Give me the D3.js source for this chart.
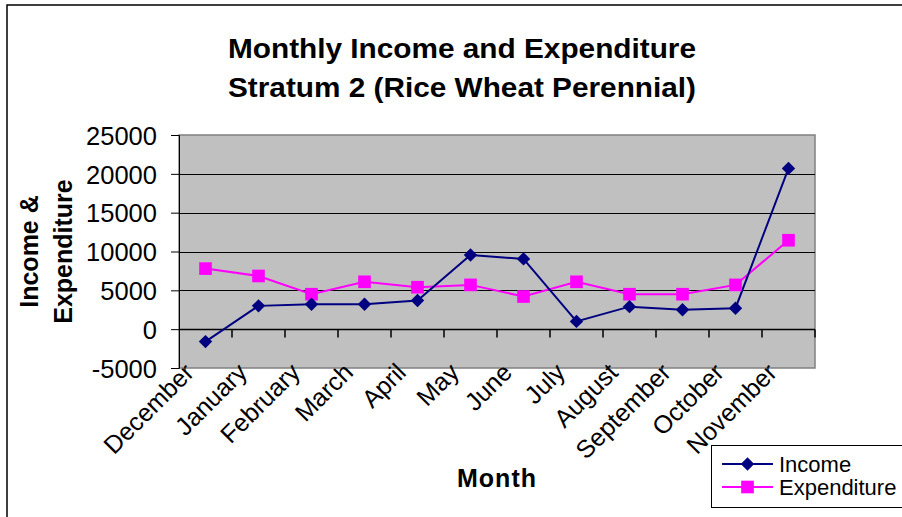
<!DOCTYPE html>
<html>
<head>
<meta charset="utf-8">
<script src="https://cdn.jsdelivr.net/npm/d3@7"></script>
<style>
  body { margin: 0; background: #fff; }
  svg { display: block; font-family: "Liberation Sans", Arial, sans-serif; }
</style>
</head>
<body>
<script>
// Chart data
const months = ['December', 'January', 'February', 'March', 'April', 'May',
  'June', 'July', 'August', 'September', 'October', 'November'];
const income = [-1600, 3000, 3200, 3200, 3700, 9550, 9050, 1000, 2900, 2500, 2700, 20700];
const expenditure = [7800, 6850, 4500, 6100, 5400, 5700, 4200, 6100, 4500, 4500, 5700, 11450];
const yTicks = [-5000, 0, 5000, 10000, 15000, 20000, 25000];

const width = 902;
const height = 517;

// plot area
const plot = { left: 179, right: 815, top: 135, bottom: 368 };

const svg = d3.select('body')
  .append('svg')
  .attr('width', width)
  .attr('height', height);

// outer chart border (runs off the right and bottom edges)
svg.append('rect')
  .attr('x', 7)
  .attr('y', 5)
  .attr('width', 1000)
  .attr('height', 1000)
  .style('fill', '#fff')
  .style('stroke', '#000')
  .style('stroke-width', 1.5);

// title
const title = svg.append('g')
  .style('font-weight', 'bold')
  .style('font-size', '28px')
  .attr('text-anchor', 'middle');
title.append('text')
  .attr('x', 462).attr('y', 58)
  .attr('textLength', 468).attr('lengthAdjust', 'spacingAndGlyphs')
  .text('Monthly Income and Expenditure');
title.append('text')
  .attr('x', 462).attr('y', 97)
  .attr('textLength', 468).attr('lengthAdjust', 'spacingAndGlyphs')
  .text('Stratum 2 (Rice Wheat Perennial)');

// scales
const x = d3.scaleBand()
  .domain(months)
  .range([plot.left, plot.right]);

const y = d3.scaleLinear()
  .domain([-5000, 25000])
  .range([plot.bottom, plot.top]);

const cx = (d, i) => x(months[i]) + x.bandwidth() / 2;

// plot background
svg.append('rect')
  .attr('x', plot.left)
  .attr('y', plot.top)
  .attr('width', plot.right - plot.left)
  .attr('height', plot.bottom - plot.top)
  .style('fill', '#c0c0c0')
  .style('stroke', '#808080')
  .style('stroke-width', 1.5);

// gridlines
svg.selectAll('.grid')
  .data(yTicks.filter((t) => t !== -5000 && t !== 25000))
  .enter()
  .append('line')
  .attr('class', 'grid')
  .attr('x1', plot.left)
  .attr('x2', plot.right)
  .attr('y1', (d) => Math.round(y(d)) + 0.5)
  .attr('y2', (d) => Math.round(y(d)) + 0.5)
  .style('stroke', '#000')
  .style('stroke-width', 1);

// y axis
const yAxis = svg.append('g')
  .attr('transform', `translate(${plot.left},0)`)
  .call(d3.axisLeft(y).tickValues(yTicks).tickSize(8).tickPadding(14).tickFormat((d) => String(d)));
yAxis.select('.domain').style('stroke', '#000');
yAxis.selectAll('.tick line').style('stroke', '#000');
yAxis.selectAll('text')
  .style('font-size', '25.5px')
  .style('fill', '#000')
  .attr('dy', '0.36em');

// x axis line at zero with ticks at category boundaries
const zeroY = Math.round(y(0)) + 0.5;
svg.append('line')
  .attr('x1', plot.left).attr('x2', plot.right)
  .attr('y1', zeroY).attr('y2', zeroY)
  .style('stroke', '#000')
  .style('stroke-width', 1.5);
svg.selectAll('.xtick')
  .data(months)
  .enter()
  .append('line')
  .attr('class', 'xtick')
  .attr('x1', (d) => x(d) + x.step())
  .attr('x2', (d) => x(d) + x.step())
  .attr('y1', zeroY)
  .attr('y2', zeroY + 8)
  .style('stroke', '#000')
  .style('stroke-width', 1.5);

// x labels rotated
svg.selectAll('.xlabel')
  .data(months)
  .enter()
  .append('text')
  .attr('class', 'xlabel')
  .attr('text-anchor', 'end')
  .attr('transform', (d) => `translate(${x(d) + x.bandwidth() / 2 - 10},${plot.bottom + 6}) rotate(-45)`)
  .style('font-size', '25px')
  .text((d) => d);

// axis titles
svg.append('text')
  .attr('text-anchor', 'middle')
  .attr('x', 497)
  .attr('y', 487)
  .style('font-size', '25px')
  .style('font-weight', 'bold')
  .style('letter-spacing', '1px')
  .text('Month');

const yTitle = svg.append('g')
  .attr('transform', `translate(0,${(plot.top + plot.bottom) / 2}) rotate(-90)`)
  .attr('text-anchor', 'middle')
  .style('font-size', '25px')
  .style('font-weight', 'bold');
yTitle.append('text').attr('x', 0).attr('y', 38).text('Income &');
yTitle.append('text').attr('x', 0).attr('y', 72).text('Expenditure');

// lines
const line = d3.line().x(cx).y((d) => y(d));

svg.append('path')
  .datum(expenditure)
  .attr('d', line)
  .style('fill', 'none')
  .style('stroke', '#ff00ff')
  .style('stroke-width', 2);

svg.append('path')
  .datum(income)
  .attr('d', line)
  .style('fill', 'none')
  .style('stroke', '#000080')
  .style('stroke-width', 2);

// markers
const diamond = d3.symbol().type(d3.symbolSquare).size(90);
const square = d3.symbol().type(d3.symbolSquare).size(160);

svg.selectAll('.exp')
  .data(expenditure)
  .enter()
  .append('path')
  .attr('class', 'exp')
  .attr('d', square)
  .attr('transform', (d, i) => `translate(${cx(d, i)},${y(d)})`)
  .style('fill', '#ff00ff');

svg.selectAll('.inc')
  .data(income)
  .enter()
  .append('path')
  .attr('class', 'inc')
  .attr('d', diamond)
  .attr('transform', (d, i) => `translate(${cx(d, i)},${y(d)}) rotate(45)`)
  .style('fill', '#000080');

// legend
const legend = svg.append('g');
legend.append('rect')
  .attr('x', 711.5)
  .attr('y', 445.5)
  .attr('width', 300)
  .attr('height', 62)
  .style('fill', '#fff')
  .style('stroke', '#000')
  .style('stroke-width', 1);

const legendItems = [
  { name: 'Income', color: '#000080', sym: diamond, rot: 45, ly: 464 },
  { name: 'Expenditure', color: '#ff00ff', sym: square, rot: 0, ly: 487 }
];
const li = legend.selectAll('.li')
  .data(legendItems)
  .enter()
  .append('g')
  .attr('class', 'li');
li.append('line')
  .attr('x1', 722).attr('x2', 773)
  .attr('y1', (d) => d.ly).attr('y2', (d) => d.ly)
  .style('stroke', (d) => d.color)
  .style('stroke-width', 2);
li.append('path')
  .attr('d', (d) => d.sym())
  .attr('transform', (d) => `translate(747.5,${d.ly}) rotate(${d.rot})`)
  .style('fill', (d) => d.color);
li.append('text')
  .attr('x', 779)
  .attr('y', (d) => d.ly + 8)
  .style('font-size', '22px')
  .text((d) => d.name);
</script>
</body>
</html>
